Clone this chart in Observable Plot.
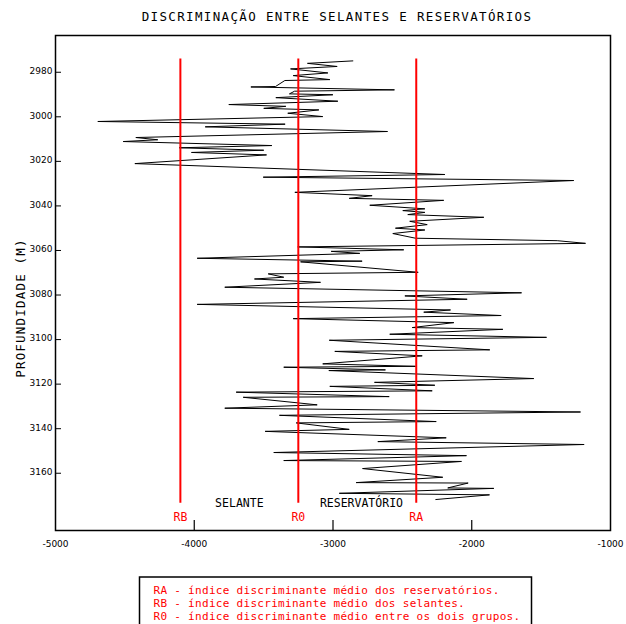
<!DOCTYPE html>
<html><head><meta charset="utf-8">
<script src="https://cdn.jsdelivr.net/npm/d3@7"></script>
<script src="https://cdn.jsdelivr.net/npm/@observablehq/plot@0.6"></script>
<style>body{margin:0;background:#fff;}</style>
</head><body><div id="chart"></div>
<script>
const depth = [2974.9,2976.0,2977.4,2978.5,2980.3,2981.5,2983.3,2983.7,2986.4,2986.6,
2987.9,2988.5,2989.7,2990.1,2991.4,2993.0,2994.5,2995.3,2996.2,2996.9,
2998.4,2999.9,3002.1,3003.3,3004.5,3006.6,3009.3,3010.3,3011.1,3012.9,
3013.9,3015.0,3016.0,3017.1,3021.0,3025.9,3027.1,3028.6,3033.9,3035.4,
3036.6,3037.5,3039.7,3041.3,3042.1,3042.9,3043.9,3045.1,3046.9,3048.4,
3050.0,3050.8,3052.4,3054.5,3055.6,3056.8,3058.4,3059.7,3060.4,3061.3,
3063.5,3064.8,3065.1,3069.8,3070.5,3072.0,3072.8,3074.3,3076.5,3079.0,
3080.4,3081.9,3084.2,3086.7,3087.7,3089.2,3090.6,3092.4,3094.6,3095.4,
3097.6,3099.0,3100.3,3104.6,3105.3,3107.3,3110.9,3112.0,3112.4,3113.6,
3113.9,3117.5,3119.2,3120.5,3121.0,3123.0,3123.6,3125.6,3125.9,3129.3,
3130.8,3132.5,3134.0,3136.8,3137.4,3140.3,3141.2,3144.1,3145.8,3147.1,
3150.7,3152.1,3154.3,3154.7,3157.9,3161.8,3164.2,3164.4,3166.6,3166.8,
3169.0,3169.7,3171.8];
const indice = [-2857,-3184,-2970,-3306,-3037,-3287,-3023,-3347,-3414,-3592,
-2557,-3277,-3314,-3001,-3412,-2965,-3751,-3340,-3499,-3102,
-3326,-3074,-4695,-3345,-3921,-2607,-4421,-4263,-4512,-3441,
-4108,-3499,-4020,-3479,-4428,-2194,-3503,-1265,-3275,-2718,
-2883,-2202,-2735,-2338,-2497,-2338,-2461,-1913,-2447,-2321,
-2550,-2338,-2569,-2405,-1384,-1180,-3254,-2490,-3013,-2807,
-3979,-2790,-3234,-2386,-3467,-3355,-3566,-3090,-3780,-1641,
-2482,-2033,-3979,-2153,-2346,-1788,-3287,-2129,-2429,-1776,
-2591,-1461,-3027,-1870,-2987,-2357,-3074,-2405,-3355,-2622,
-3030,-1553,-2701,-2266,-3023,-2285,-3698,-2595,-3647,-3114,
-3780,-1216,-3386,-2256,-3265,-2883,-3489,-2184,-2677,-1190,
-3427,-2038,-3355,-2074,-2787,-2209,-2833,-2026,-2173,-1841,
-2955,-1872,-2259];
const refLabels = ["RB","R0","RA"];
const refValues = [-4100,-3250,-2400];
const refTop = 2974, refBottom = 3173.5;
const zoneLabels = ["SELANTE","RESERVATÓRIO"];
const zoneValues = [-3675,-2795];
const xTicks = [-5000,-4000,-3000,-2000,-1000];
const yTicks = [2980,3000,3020,3040,3060,3080,3100,3120,3140,3160];
const title = "DISCRIMINAÇÃO ENTRE SELANTES E RESERVATÓRIOS";
const yLabel = "PROFUNDIDADE (M)";
const legendLines = [
  "RA - índice discriminante médio dos reservatórios.",
  "RB - índice discriminante médio dos selantes.",
  "R0 - índice discriminante médio entre os dois grupos."
];

const points = depth.map((d,i)=>({depth:d, value:indice[i]}));
const refs = refLabels.map((l,i)=>({label:l, value:refValues[i]}));
const zones = zoneLabels.map((l,i)=>({label:l, value:zoneValues[i]}));

const W=626,H=624,mL=55,mR=16,mT=35,mB=94;
const fw = W-mL-mR, fh = H-mT-mB;
const mono = "DejaVu Sans Mono";
const fmt = d=>String(d);

const plot = Plot.plot({
  width: W, height: H, marginLeft: mL, marginRight: mR, marginTop: mT, marginBottom: mB,
  style: {fontFamily: "DejaVu Sans", fontSize: "9px", background: "white", color: "black"},
  x: {domain: [-5000,-1000], label: null},
  y: {domain: [2963.5, 3185.7], reverse: true, label: null},
  marks: [
    Plot.line(points, {x:"value", y:"depth", stroke:"black", strokeWidth:1}),
    Plot.ruleX(refs, {x:"value", y1: refTop, y2: refBottom, stroke:"#ff0000", strokeWidth:2}),
    Plot.text(refs, {x:"value", text:"label", frameAnchor:"bottom", dy:-10, fill:"#ff0000", fontFamily: mono, fontSize:11.5, letterSpacing: 1}),
    Plot.text(zones, {x:"value", text:"label", frameAnchor:"bottom", dy:-24, fill:"black", fontFamily: mono, fontSize:11.5, letterSpacing: 0.3}),
    Plot.tickY(yTicks, {y: d=>d, insetRight: fw-6, stroke:"black", strokeWidth:1}),
    Plot.tickX(xTicks.slice(1,-1), {x: d=>d, insetTop: fh-10, stroke:"black", strokeWidth:1.2}),
    Plot.axisX({anchor:"bottom", ticks: xTicks, tickSize:0, tickPadding:10, tickFormat: fmt}),
    Plot.axisY({anchor:"left", ticks: yTicks, tickSize:0, tickPadding:3, dy:-1, tickFormat: fmt}),
    Plot.frame({stroke:"black", strokeWidth:1.5})
  ]
});
document.getElementById("chart").appendChild(plot);
const svg = d3.select(plot);
svg.append("text").attr("x", 337).attr("y", 21).attr("text-anchor","middle")
  .style("font-family", mono).style("font-size","12.5px").style("letter-spacing","1.35px")
  .attr("fill","black").text(title);
svg.append("text").attr("transform","translate(25,308) rotate(-90)").attr("text-anchor","middle")
  .style("font-family", mono).style("font-size","12.5px").style("letter-spacing","1.2px")
  .attr("fill","black").text(yLabel);
svg.append("rect").attr("x",139.5).attr("y",577).attr("width",392).attr("height",70)
  .attr("fill","none").attr("stroke","black").attr("stroke-width",1.5);
svg.selectAll("text.leg").data(legendLines).join("text").attr("class","leg")
  .attr("x",153.5).attr("y",(d,i)=>594+i*13).attr("text-anchor","start")
  .style("font-family", mono).style("font-size","11px").style("letter-spacing","0.3px")
  .attr("fill","#ff0000").text(d=>d);
</script></body></html>
